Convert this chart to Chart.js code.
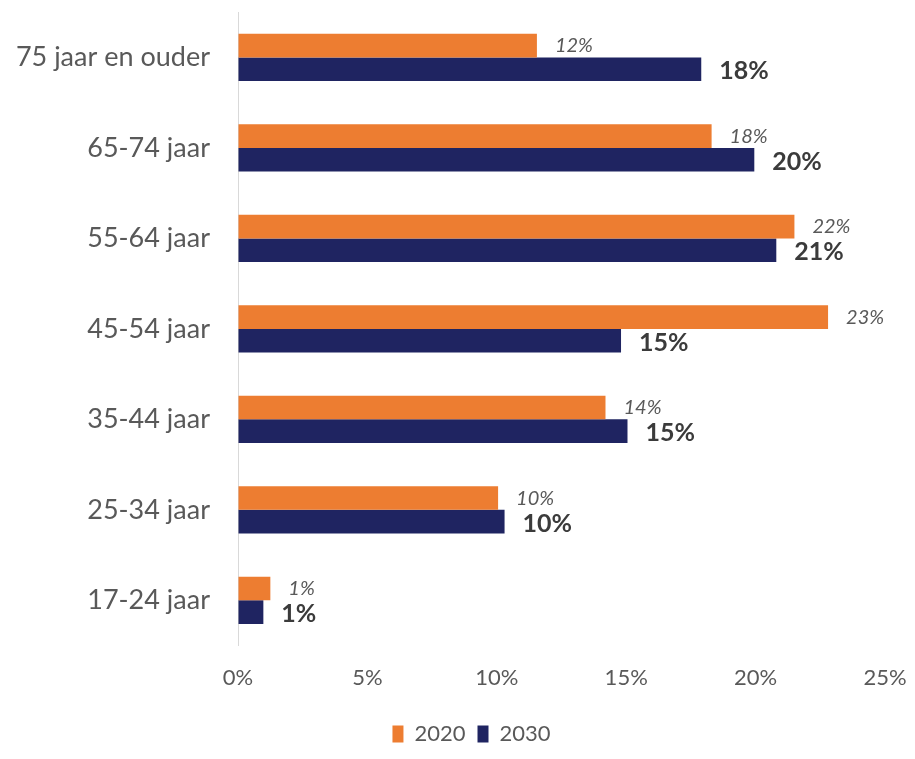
<!DOCTYPE html>
<html>
<head>
<meta charset="utf-8">
<script src="https://cdn.jsdelivr.net/npm/chart.js@4.4.1/dist/chart.umd.min.js"></script>
<style>
  html, body { margin: 0; padding: 0; background: #fff; }
  #wrap { width: 915px; height: 759px; position: relative; }
</style>
</head>
<body>
<div id="wrap"><canvas id="chart"></canvas></div>
<script>
const categories = ['75 jaar en ouder', '65-74 jaar', '55-64 jaar', '45-54 jaar', '35-44 jaar', '25-34 jaar', '17-24 jaar'];
const values2020 = [11.55, 18.3, 21.5, 22.8, 14.2, 10.05, 1.25];
const values2030 = [17.9, 19.95, 20.8, 14.8, 15.05, 10.3, 0.98];
const xTicks = [0, 5, 10, 15, 20, 25];

const FONT = 'Lato, "Open Sans", sans-serif';

// percentage labels next to each bar end
const barLabels = {
    id: 'barLabels',
    afterDatasetsDraw(chart) {
        const ctx = chart.ctx;
        ctx.save();
        ctx.textBaseline = 'middle';
        ctx.textAlign = 'left';
        chart.data.datasets.forEach((ds, i) => {
            const meta = chart.getDatasetMeta(i);
            meta.data.forEach((bar, j) => {
                const txt = Math.round(ds.data[j]) + '%';
                if (i === 0) {
                    ctx.font = 'italic 20px ' + FONT;
                    ctx.fillStyle = '#595959';
                    ctx.fillText(txt, bar.x + 18, bar.y);
                } else {
                    ctx.font = 'bold 25px ' + FONT;
                    ctx.fillStyle = '#3b3b3b';
                    ctx.fillText(txt, bar.x + 18, bar.y + 2);
                }
            });
        });
        ctx.restore();
    }
};

// nudge the legend a bit to the right, under the plot
const legendShift = {
    id: 'legendShift',
    afterLayout(chart) {
        if (chart.legend) {
            chart.legend.left += 29;
            chart.legend.right += 29;
        }
    }
};

new Chart(document.getElementById('chart'), {
    type: 'bar',
    data: {
        labels: categories,
        datasets: [
            { label: '2020', data: values2020, backgroundColor: '#ED7D31', categoryPercentage: 0.52, barPercentage: 1 },
            { label: '2030', data: values2030, backgroundColor: '#1F2461', categoryPercentage: 0.52, barPercentage: 1 }
        ]
    },
    options: {
        indexAxis: 'y',
        responsive: true,
        maintainAspectRatio: false,
        animation: false,
        layout: { padding: { top: 12, right: 30, left: 0, bottom: 4 } },
        scales: {
            x: {
                min: 0,
                max: 25,
                afterBuildTicks: (scale) => { scale.ticks = xTicks.map(v => ({ value: v })); },
                // extra room under the tick labels, above the legend
                afterFit: (scale) => { scale.height += 20; },
                // invisible tick marks give the gap between axis and labels
                grid: { drawOnChartArea: false, drawTicks: true, tickLength: 19, tickColor: 'rgba(0,0,0,0)' },
                border: { display: false },
                ticks: {
                    padding: 0,
                    color: '#595959',
                    font: { family: FONT, size: 22 },
                    callback: (v) => v + '%'
                }
            },
            y: {
                afterFit: (scale) => { scale.width = 238; },
                grid: { drawOnChartArea: false, drawTicks: true, tickLength: 28, tickColor: 'rgba(0,0,0,0)' },
                border: { display: true, color: '#d9d9d9', width: 1 },
                ticks: {
                    padding: 0,
                    color: '#595959',
                    font: { family: FONT, size: 27, lineHeight: 0.9 }
                }
            }
        },
        plugins: {
            legend: {
                position: 'bottom',
                labels: {
                    boxWidth: 11,
                    boxHeight: 17,
                    padding: 12,
                    color: '#595959',
                    font: { family: FONT, size: 22 }
                }
            },
            tooltip: { enabled: false }
        }
    },
    plugins: [barLabels, legendShift]
});
</script>
</body>
</html>
